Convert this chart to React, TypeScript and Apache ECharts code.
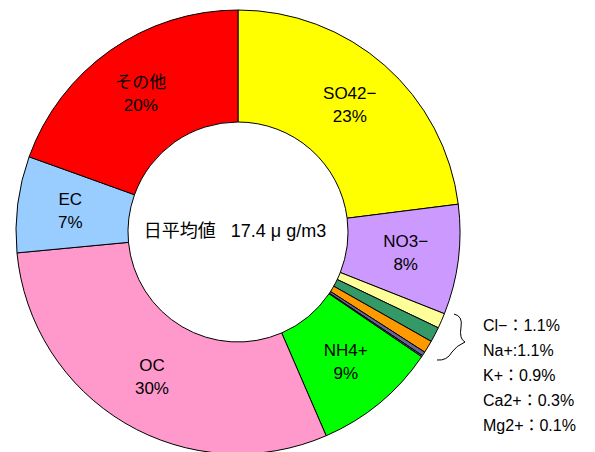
import React, { useEffect, useRef } from "react";
import * as echarts from "echarts";

const categories = ["SO42−", "NO3−", "Cl−", "Na+", "K+", "Ca2+", "Mg2+", "NH4+", "OC", "EC", "その他"];
// slice sizes (sum 100)
const shares = [23, 8, 1.1, 1.1, 0.9, 0.3, 0.1, 9, 30, 7, 19.5];
// percentages as printed on the slices
const percentLabels = ["23%", "8%", "1.1%", "1.1%", "0.9%", "0.3%", "0.1%", "9%", "30%", "7%", "20%"];
const sliceColors = ["#FFFF00", "#CC99FF", "#FFFF99", "#339966", "#FF9900", "#666699", "#7777AA", "#00FF00", "#FF99CC", "#99CCFF", "#FF0000"];
const insideLabelled = [true, true, false, false, false, false, false, true, true, true, true];
const sideListNames = ["Cl−：", "Na+:", "K+：", "Ca2+：", "Mg2+："];
const sideListValues = ["1.1%", "1.1%", "0.9%", "0.3%", "0.1%"];
const centerText = "日平均値   17.4 μ g/m3";

const FONT = "'Liberation Sans', 'Noto Sans CJK JP', sans-serif";

echarts.graphic.registerShape(
  "brace",
  echarts.graphic.extendPath(
    "M454,314 Q463,316 461,327 Q459,339 465,342 Q456,346 452,352 Q447,361 437,360",
    {}
  )
);

export default function App() {
  const ref = useRef<HTMLDivElement>(null);
  useEffect(() => {
    if (!ref.current) return;
    const chart = echarts.init(ref.current, null, { renderer: "svg" });
    const data = categories.map((name, i) => ({
      name,
      value: shares[i],
      itemStyle: { color: sliceColors[i] },
      label: { show: insideLabelled[i] },
    }));
    chart.setOption({
      animation: false,
      backgroundColor: "#FFFFFF",
      series: [
        {
          type: "pie",
          center: [238, 232],
          radius: [110, 222],
          startAngle: 90,
          clockwise: true,
          avoidLabelOverlap: false,
          itemStyle: { borderColor: "#000000", borderWidth: 1 },
          label: {
            position: "inside",
            formatter: (p: any) => `${p.name}\n${percentLabels[p.dataIndex]}`,
            color: "#000000",
            fontFamily: FONT,
            fontSize: 17,
            lineHeight: 23,
            align: "center",
          },
          labelLine: { show: false },
          emphasis: { disabled: true },
          data,
        },
      ],
      graphic: [
        {
          type: "text",
          x: 235,
          y: 231,
          style: {
            text: centerText,
            fill: "#000000",
            font: `18px ${FONT}`,
            align: "center",
            verticalAlign: "middle",
          },
        },
        {
          type: "text",
          x: 483,
          y: 313,
          style: {
            text: sideListNames.map((n, i) => `${n}${sideListValues[i]}`).join("\n"),
            fill: "#000000",
            font: `16px ${FONT}`,
            lineHeight: 25,
            align: "left",
            verticalAlign: "top",
          },
        },
        {
          type: "brace",
          x: 0,
          y: 0,
          style: { stroke: "#000000", fill: null, lineWidth: 1 },
        },
      ],
    });
    return () => chart.dispose();
  }, []);
  return (
    <div
      ref={ref}
      style={{ position: "absolute", left: 0, top: 0, width: 595, height: 452 }}
    />
  );
}
